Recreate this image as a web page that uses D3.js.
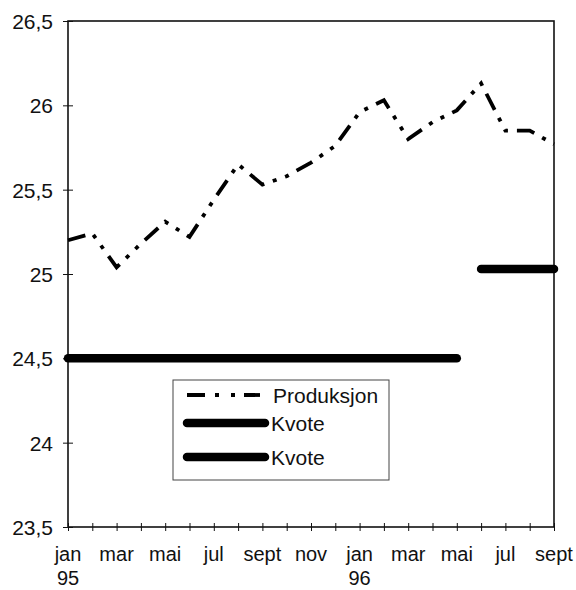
<!DOCTYPE html>
<html>
<head>
<meta charset="utf-8">
<script src="https://cdn.jsdelivr.net/npm/d3@7"></script>
<style>
  body { margin: 0; background: #fff; }
  text { font-family: "Liberation Sans", Arial, sans-serif; fill: #111; }
</style>
</head>
<body>
<div id="canvas"></div>
<script>
"use strict"

/* data */
let months = ["jan", "feb", "mar", "apr", "mai", "jun", "jul", "aug", "sept", "okt", "nov", "des",
              "jan", "feb", "mar", "apr", "mai", "jun", "jul", "aug", "sept"];
let yearLabels = { 0: "95", 12: "96" };
let produksjon = [25.20, 25.24, 25.04, 25.18, 25.31, 25.22, 25.44, 25.65, 25.53, 25.58, 25.66,
                  25.76, 25.96, 26.03, 25.80, 25.90, 25.97, 26.13, 25.85, 25.85, 25.77];
let kvote1 = [24.5, 24.5, 24.5, 24.5, 24.5, 24.5, 24.5, 24.5, 24.5, 24.5, 24.5, 24.5,
              24.5, 24.5, 24.5, 24.5, 24.5];           // jan 95 - mai 96
let kvote2Start = 17;                                  // jun 96
let kvote2 = [25.03, 25.03, 25.03, 25.03];             // jun 96 - sept 96
let yTicks = [23.5, 24, 24.5, 25, 25.5, 26, 26.5];

let drawing = d3.select("#canvas")
    .append("svg")
    .attr("width", 576)
    .attr("height", 590);

let x = d3.scaleLinear().domain([0, months.length - 1]).range([68, 554]);
let y = d3.scaleLinear().domain([23.5, 26.5]).range([527, 21]);
let fmt = v => String(v).replace(".", ",");

/* frame */
let frame = drawing.append("rect")
    .attr("x", x(0)).attr("y", y(26.5))
    .attr("width", x(20) - x(0)).attr("height", y(23.5) - y(26.5))
    .attr("fill", "none")
    .attr("stroke", "#111")
    .attr("stroke-width", 1.6);

/* y axis */
let yAxis = drawing.append("g")
    .attr("transform", `translate(${x(0)},0)`)
    .call(d3.axisLeft(y).tickValues(yTicks).tickFormat(fmt).tickSizeInner(5).tickSizeOuter(0).tickPadding(10));
yAxis.select(".domain").remove();
yAxis.selectAll(".tick line").attr("x2", 5).attr("x1", -5).attr("stroke", "#111");
yAxis.selectAll(".tick text").attr("font-size", 21).attr("dy", "0.35em");

/* x axis */
let xAxis = drawing.append("g")
    .attr("transform", `translate(0,${y(23.5)})`)
    .call(d3.axisBottom(x).tickValues(d3.range(months.length)).tickFormat("").tickSizeOuter(0));
xAxis.select(".domain").remove();
xAxis.selectAll(".tick line").attr("y1", -4).attr("y2", 4).attr("stroke", "#111");

let xLabels = drawing.append("g");
xLabels.selectAll("text.month")
    .data(d3.range(0, months.length, 2))
    .join("text")
    .attr("class", "month")
    .attr("x", d => x(d))
    .attr("y", 561)
    .attr("text-anchor", "middle")
    .attr("font-size", 20)
    .text(d => months[d]);
xLabels.selectAll("text.year")
    .data(Object.keys(yearLabels).map(Number))
    .join("text")
    .attr("class", "year")
    .attr("x", d => x(d))
    .attr("y", 585)
    .attr("text-anchor", "middle")
    .attr("font-size", 20)
    .text(d => yearLabels[d]);

/* series */
let line = d3.line().x(d => x(d[0])).y(d => y(d[1]));

let kvoteLine1 = drawing.append("path")
    .attr("d", line(kvote1.map((v, i) => [i, v])))
    .attr("fill", "none")
    .attr("stroke", "#000")
    .attr("stroke-width", 8.5)
    .attr("stroke-linecap", "round");

let kvoteLine2 = drawing.append("path")
    .attr("d", line(kvote2.map((v, i) => [kvote2Start + i, v])))
    .attr("fill", "none")
    .attr("stroke", "#000")
    .attr("stroke-width", 8.5)
    .attr("stroke-linecap", "round");

let prodLine = drawing.append("path")
    .attr("d", line(produksjon.map((v, i) => [i, v])))
    .attr("fill", "none")
    .attr("stroke", "#000")
    .attr("stroke-width", 3.8)
    .attr("stroke-dasharray", "18,9,4,9,4,9");

/* legend */
let legendBox = drawing.append("rect")
    .attr("x", 173).attr("y", 380)
    .attr("width", 216).attr("height", 100)
    .attr("fill", "#fff")
    .attr("stroke", "#444")
    .attr("stroke-width", 1);

let legendItems = [
    { label: "Produksjon", y: 395, x1: 187, x2: 260, width: 3.8, dash: "18,10,4,12,4,9", tx: 273 },
    { label: "Kvote", y: 423, x1: 187, x2: 265, width: 8.5, dash: null, tx: 271 },
    { label: "Kvote", y: 457, x1: 187, x2: 265, width: 8.5, dash: null, tx: 271 }
];
legendItems.forEach(item => {
    drawing.append("line")
        .attr("x1", item.x1).attr("x2", item.x2)
        .attr("y1", item.y).attr("y2", item.y)
        .attr("stroke", "#000")
        .attr("stroke-width", item.width)
        .attr("stroke-linecap", item.dash ? "butt" : "round")
        .attr("stroke-dasharray", item.dash);
    drawing.append("text")
        .attr("x", item.tx)
        .attr("y", item.y + 8)
        .attr("font-size", 21)
        .text(item.label);
});
</script>
</body>
</html>
